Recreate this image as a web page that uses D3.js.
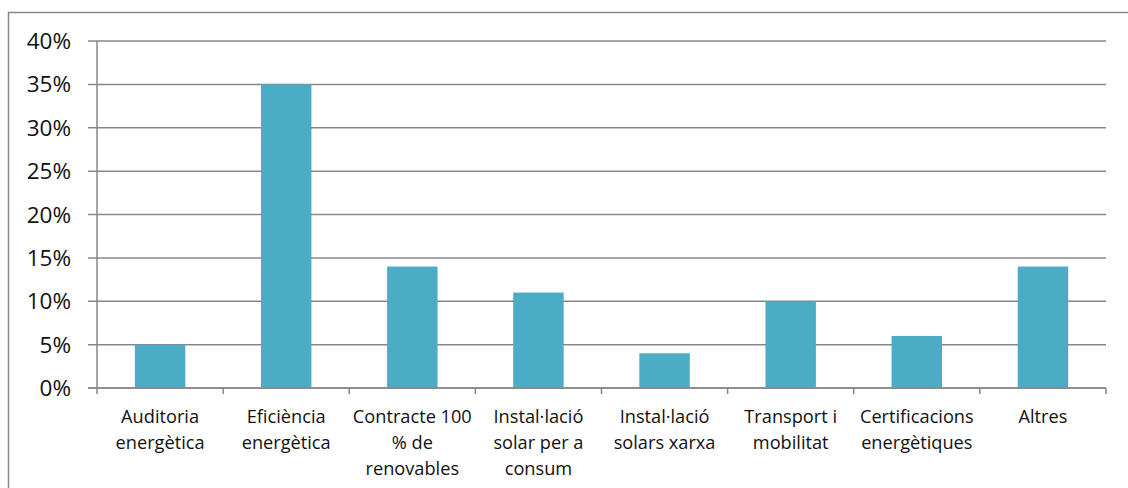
<!DOCTYPE html>
<html>
<head>
<meta charset="utf-8">
<script src="https://cdn.jsdelivr.net/npm/d3@7"></script>
<style>
  body { margin: 0; background: #fff; }
  svg { display: block; }
  .grid line { stroke: #878787; stroke-width: 1.5; }
  .axis path, .axis line { stroke: #878787; stroke-width: 1.5; }
  text { font-family: "Open Sans", sans-serif; fill: #111; }
</style>
</head>
<body>
<script>
(function(){

//chart data
var categories = ["Auditoria energètica", "Eficiència energètica", "Contracte 100 % de renovables",
    "Instal·lació solar per a consum", "Instal·lació solars xarxa", "Transport i mobilitat",
    "Certificacions energètiques", "Altres"];
var shares = [0.05, 0.35, 0.14, 0.11, 0.04, 0.10, 0.06, 0.14];
//tick labels, as they wrap under each bar
var tickLines = [
    ["Auditoria", "energètica"],
    ["Eficiència", "energètica"],
    ["Contracte 100", "% de", "renovables"],
    ["Instal·lació", "solar per a", "consum"],
    ["Instal·lació", "solars xarxa"],
    ["Transport i", "mobilitat"],
    ["Certificacions", "energètiques"],
    ["Altres"]
];
var yTicks = [0, 0.05, 0.10, 0.15, 0.20, 0.25, 0.30, 0.35, 0.40];

var width = 1128,
    height = 488;

var svg = d3.select("body")
    .append("svg")
    .attr("width", width)
    .attr("height", height);

//outer chart frame (runs off the right and bottom edges)
svg.append("rect")
    .attr("x", 8.5)
    .attr("y", 12.5)
    .attr("width", 1200)
    .attr("height", 600)
    .attr("fill", "none")
    .attr("stroke", "#878787")
    .attr("stroke-width", 1.5);

var x = d3.scaleBand()
    .domain(categories)
    .range([97, 1106]);

var y = d3.scaleLinear()
    .domain([0, 0.4])
    .range([388, 41]);

//horizontal gridlines with small outside ticks
svg.append("g")
    .attr("class", "grid")
    .selectAll("line")
    .data(yTicks)
    .enter()
    .append("line")
    .attr("x1", 88)
    .attr("x2", 1106)
    .attr("y1", function(d){ return y(d); })
    .attr("y2", function(d){ return y(d); });

//y labels
svg.append("g")
    .selectAll("text")
    .data(yTicks)
    .enter()
    .append("text")
    .attr("x", 71)
    .attr("y", function(d){ return y(d); })
    .attr("dy", "0.36em")
    .attr("text-anchor", "end")
    .style("font-size", "22.5px")
    .text(d3.format(".0%"));

//bars
svg.append("g")
    .selectAll("rect")
    .data(shares)
    .enter()
    .append("rect")
    .attr("x", function(d, i){ return x(categories[i]) + x.bandwidth() * 0.3; })
    .attr("width", x.bandwidth() * 0.4)
    .attr("y", function(d){ return y(d); })
    .attr("height", function(d){ return y(0) - y(d); })
    .attr("fill", "#4BACC6");

//y axis line
svg.append("line")
    .attr("class", "axisline")
    .attr("x1", 97).attr("x2", 97)
    .attr("y1", y(0.4)).attr("y2", y(0))
    .attr("stroke", "#878787")
    .attr("stroke-width", 1.5);

//x axis with ticks on band boundaries
var edges = categories.map(function(c){ return x(c); }).concat([x.range()[1]]);
var xAxis = svg.append("g").attr("class", "axis");
xAxis.append("line")
    .attr("x1", 88).attr("x2", 1106)
    .attr("y1", y(0)).attr("y2", y(0));
xAxis.selectAll(".tick")
    .data(edges)
    .enter()
    .append("line")
    .attr("class", "tick")
    .attr("x1", function(d){ return d; })
    .attr("x2", function(d){ return d; })
    .attr("y1", y(0))
    .attr("y2", y(0) + 6);

//category labels
var labels = svg.append("g")
    .selectAll("text")
    .data(categories)
    .enter()
    .append("text")
    .attr("text-anchor", "middle")
    .style("font-size", "18.2px");

labels.each(function(c, i){
    var t = d3.select(this);
    tickLines[i].forEach(function(line, j){
        t.append("tspan")
            .attr("x", x(c) + x.bandwidth() / 2)
            .attr("y", 422.5 + j * 26.3)
            .text(line);
    });
});

})();
</script>
</body>
</html>
